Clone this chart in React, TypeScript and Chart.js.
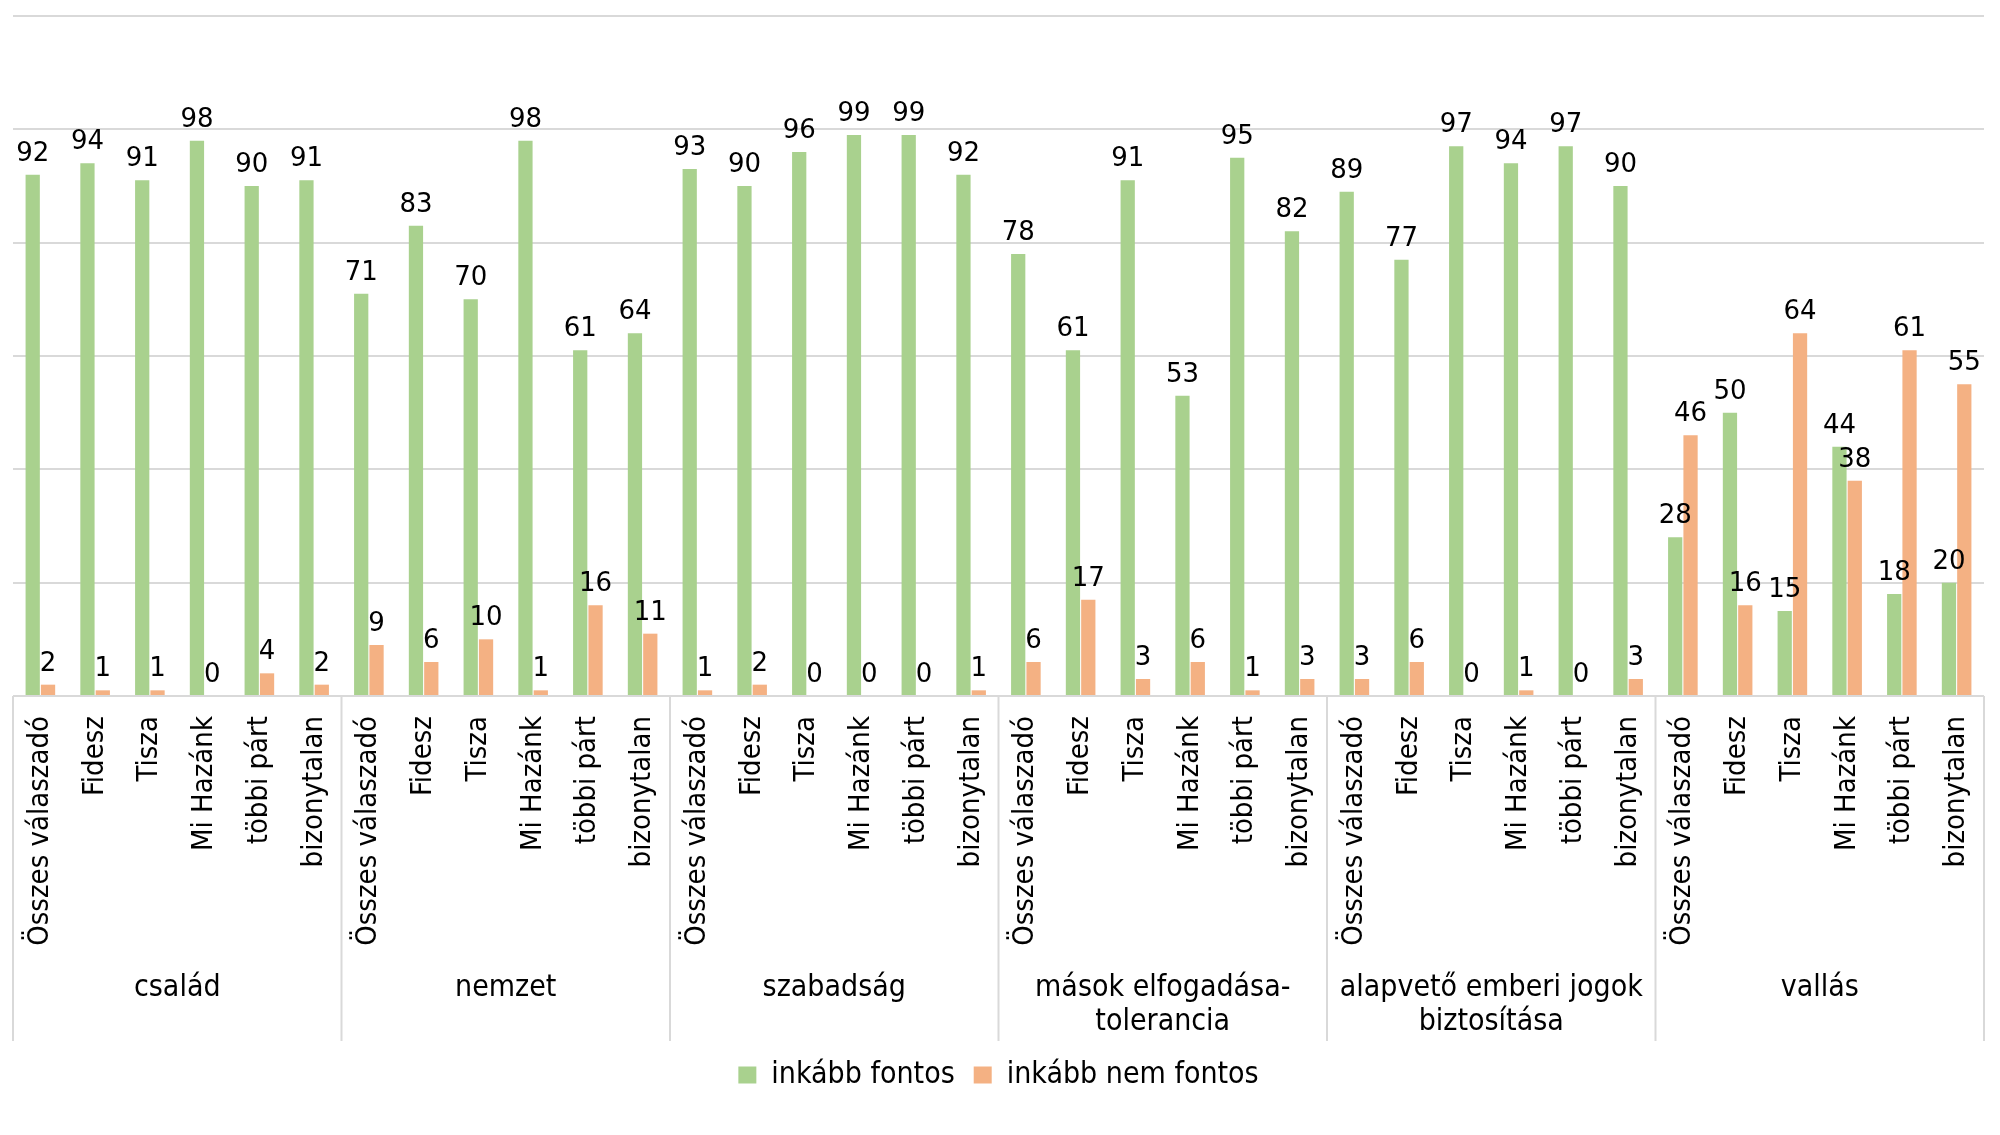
import { useEffect, useRef } from 'react';
import { Chart, registerables } from 'chart.js';

Chart.register(...registerables);

// ---- data ----
const parties = ['Összes válaszadó', 'Fidesz', 'Tisza', 'Mi Hazánk', 'többi párt', 'bizonytalan'];
const topics: string[][] = [
  ['család'],
  ['nemzet'],
  ['szabadság'],
  ['mások elfogadása-', 'tolerancia'],
  ['alapvető emberi jogok', 'biztosítása'],
  ['vallás'],
];
const seriesNames = ['inkább fontos', 'inkább nem fontos'];
const fontos = [
  92, 94, 91, 98, 90, 91,
  71, 83, 70, 98, 61, 64,
  93, 90, 96, 99, 99, 92,
  78, 61, 91, 53, 95, 82,
  89, 77, 97, 94, 97, 90,
  28, 50, 15, 44, 18, 20,
];
const nemFontos = [
  2, 1, 1, 0, 4, 2,
  9, 6, 10, 1, 16, 11,
  1, 2, 0, 0, 0, 1,
  6, 17, 3, 6, 1, 3,
  3, 6, 0, 1, 0, 3,
  46, 16, 64, 38, 61, 55,
];
const yMin = 0;
const yMax = 120;
const yStep = 20;

// ---- styles ----
const GREEN = '#A9D18E';
const ORANGE = '#F4B183';
const GRID = '#D9D9D9';
const AXIS_FONT = "'DejaVu Sans Condensed', 'DejaVu Sans', sans-serif";
const VALUE_FONT = "'DejaVu Sans', sans-serif";

export default function App() {
  const ref = useRef<HTMLCanvasElement>(null);

  useEffect(() => {
    document.body.style.margin = '0';
    const canvas = ref.current!;
    const labels = topics.flatMap(() => parties);

    const valueLabels = {
      id: 'valueLabels',
      afterDatasetsDraw(chart: any) {
        const ctx = chart.ctx;
        ctx.save();
        ctx.font = `26px ${VALUE_FONT}`;
        ctx.fillStyle = '#000';
        ctx.textAlign = 'center';
        ctx.textBaseline = 'alphabetic';
        chart.data.datasets.forEach((ds: any, di: number) => {
          const meta = chart.getDatasetMeta(di);
          meta.data.forEach((el: any, i: number) => {
            ctx.fillText(String(ds.data[i]), el.x, el.y - 14);
          });
        });
        ctx.restore();
      },
    };

    const groupAxis = {
      id: 'groupAxis',
      afterDraw(chart: any) {
        const ctx = chart.ctx;
        const xs = chart.scales.x;
        const n = parties.length;
        const half = (xs.getPixelForValue(1) - xs.getPixelForValue(0)) / 2;
        const top = chart.chartArea.bottom;
        const bottom = xs.bottom;
        ctx.save();
        ctx.strokeStyle = GRID;
        ctx.lineWidth = 2;
        for (let g = 0; g <= topics.length; g++) {
          const px = xs.getPixelForValue(g * n) - half;
          ctx.beginPath();
          ctx.moveTo(px, top);
          ctx.lineTo(px, bottom);
          ctx.stroke();
        }
        ctx.font = `30px ${AXIS_FONT}`;
        ctx.fillStyle = '#000';
        ctx.textAlign = 'center';
        ctx.textBaseline = 'alphabetic';
        topics.forEach((lines, g) => {
          const cx = (xs.getPixelForValue(g * n) + xs.getPixelForValue(g * n + n - 1)) / 2;
          lines.forEach((line, li) => {
            ctx.fillText(line, cx, top + 300 + li * 34);
          });
        });
        ctx.restore();
      },
    };

    const chart = new Chart(canvas, {
      type: 'bar',
      data: {
        labels,
        datasets: [
          { label: seriesNames[0], data: fontos, backgroundColor: GREEN, borderWidth: 0 },
          { label: seriesNames[1], data: nemFontos, backgroundColor: ORANGE, borderWidth: 0 },
        ],
      },
      options: {
        responsive: false,
        animation: false,
        devicePixelRatio: 1,
        layout: { padding: { left: 13, right: 16, top: 16, bottom: 35 } },
        datasets: { bar: { categoryPercentage: 0.56, barPercentage: 0.93 } },
        scales: {
          x: {
            grid: { display: false, drawTicks: false },
            border: { display: false },
            ticks: {
              autoSkip: false,
              minRotation: 90,
              maxRotation: 90,
              padding: 20,
              color: '#000',
              font: { family: AXIS_FONT, size: 29 },
            },
            afterFit(s: any) {
              s.height = 345;
              s.paddingLeft = 0;
              s.paddingRight = 0;
            },
          },
          y: {
            min: yMin,
            max: yMax,
            ticks: { display: false, stepSize: yStep },
            grid: { color: GRID, lineWidth: 2, drawTicks: false },
            border: { display: false },
            afterFit(s: any) {
              s.width = 0;
            },
          },
        },
        plugins: {
          legend: {
            position: 'bottom',
            labels: {
              boxWidth: 18,
              boxHeight: 17,
              padding: 19,
              color: '#000',
              font: { family: AXIS_FONT, size: 30 },
            },
          },
          tooltip: { enabled: false },
        },
      },
      plugins: [valueLabels, groupAxis],
    } as any);

    return () => chart.destroy();
  }, []);

  return (
    <div style={{ width: 2000, height: 1135 }}>
      <canvas ref={ref} width={2000} height={1135} style={{ display: 'block' }} />
    </div>
  );
}
